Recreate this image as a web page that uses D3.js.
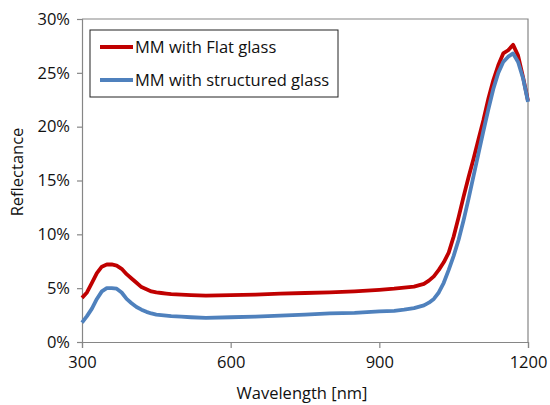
<!DOCTYPE html>
<html>
<head>
<meta charset="utf-8">
<script src="https://cdn.jsdelivr.net/npm/d3@7/dist/d3.min.js"></script>
<style>
  body { margin: 0; background: #fff; }
  text { font-family: "Open Sans", sans-serif; fill: #111; }
</style>
</head>
<body>
<svg width="550" height="405"></svg>
<script>
// wavelength grid [nm]
var wavelengths = [300,310,320,330,340,350,360,370,380,390,400,410,420,430,440,450,460,470,480,
    500,520,550,600,650,700,750,800,850,900,930,950,970,990,
    1000,1010,1020,1030,1040,1050,1060,1070,1080,1090,1100,1110,1120,1130,1140,1150,1160,1170,1180,1190,1200];

// reflectance in %
var flatGlass = [4.1,4.6,5.5,6.4,7.0,7.2,7.2,7.1,6.8,6.3,5.9,5.5,5.1,4.9,4.7,4.6,4.55,4.5,4.45,
    4.4,4.35,4.3,4.35,4.4,4.5,4.55,4.6,4.7,4.85,4.95,5.05,5.15,5.4,
    5.7,6.1,6.7,7.4,8.3,9.8,11.6,13.5,15.3,17.0,18.8,20.6,22.6,24.3,25.7,26.8,27.1,27.6,26.6,24.6,22.4];

var structuredGlass = [1.8,2.4,3.1,4.0,4.7,5.0,5.0,4.95,4.6,4.0,3.6,3.25,3.0,2.8,2.65,2.55,2.5,2.45,2.4,
    2.35,2.3,2.25,2.3,2.35,2.45,2.55,2.65,2.7,2.85,2.9,3.0,3.15,3.4,
    3.65,4.0,4.6,5.5,6.7,8.0,9.5,11.3,13.3,15.4,17.5,19.6,21.6,23.5,25.0,26.0,26.5,26.8,26.0,24.5,22.3];

var seriesNames = ["MM with Flat glass", "MM with structured glass"];
var seriesColors = ["#c00000", "#4f81bd"];
var xTicks = [300, 600, 900, 1200];
var yTicks = [0, 5, 10, 15, 20, 25, 30];

var svg = d3.select("svg"),
    margin = {top: 19, right: 22, bottom: 63, left: 82},
    width = +svg.attr("width") - margin.left - margin.right,
    height = +svg.attr("height") - margin.top - margin.bottom;

var x = d3.scaleLinear().domain([300, 1200]).range([0, width]),
    y = d3.scaleLinear().domain([0, 30]).range([height, 0]);

var g = svg.append("g")
    .attr("transform", "translate(" + margin.left + "," + margin.top + ")");

// frame top + right
g.append("path")
    .attr("d", "M0,0H" + width + "V" + height)
    .attr("fill", "none")
    .attr("stroke", "#868686")
    .attr("stroke-width", 1.2);

var xAxis = g.append("g")
    .attr("transform", "translate(0," + height + ")")
    .call(d3.axisBottom(x).tickValues(xTicks).tickSize(6).tickPadding(8)
        .tickFormat(d3.format("d")));

var yAxis = g.append("g")
    .call(d3.axisLeft(y).tickValues(yTicks).tickSize(5).tickPadding(7)
        .tickFormat(function(d) { return d + "%"; }));

[xAxis, yAxis].forEach(function(a) {
    a.select(".domain").attr("stroke", "#868686").attr("stroke-width", 1.2);
    a.selectAll(".tick line").attr("stroke", "#868686").attr("stroke-width", 1.2);
    a.selectAll("text").attr("font-size", 16.5).attr("font-family", "Open Sans").attr("fill", "#111");
});

var line = d3.line()
    .x(function(d) { return x(d[0]); })
    .y(function(d) { return y(d[1]); });

[flatGlass, structuredGlass].forEach(function(vals, i) {
    g.append("path")
        .datum(wavelengths.map(function(w, j) { return [w, vals[j]]; }))
        .attr("fill", "none")
        .attr("stroke", seriesColors[i])
        .attr("stroke-width", 3.8)
        .attr("stroke-linejoin", "round")
        .attr("d", line);
});

// legend
var legend = svg.append("g").attr("transform", "translate(90,30)");
legend.append("rect")
    .attr("width", 248).attr("height", 67)
    .attr("fill", "#fff").attr("stroke", "#222").attr("stroke-width", 1);

seriesNames.forEach(function(name, i) {
    var yy = 17 + i * 33;
    legend.append("line")
        .attr("x1", 10).attr("x2", 43).attr("y1", yy).attr("y2", yy)
        .attr("stroke", seriesColors[i]).attr("stroke-width", 4);
    legend.append("text")
        .attr("x", 45).attr("y", yy + 6)
        .attr("font-size", 16.5)
        .text(name);
});

svg.append("text")
    .attr("x", margin.left + width / 2 - 3)
    .attr("y", 399)
    .attr("text-anchor", "middle")
    .attr("font-size", 16.5)
    .text("Wavelength [nm]");

svg.append("text")
    .attr("transform", "translate(23,172) rotate(-90)")
    .attr("text-anchor", "middle")
    .attr("font-size", 16.5)
    .text("Reflectance");
</script>
</body>
</html>
